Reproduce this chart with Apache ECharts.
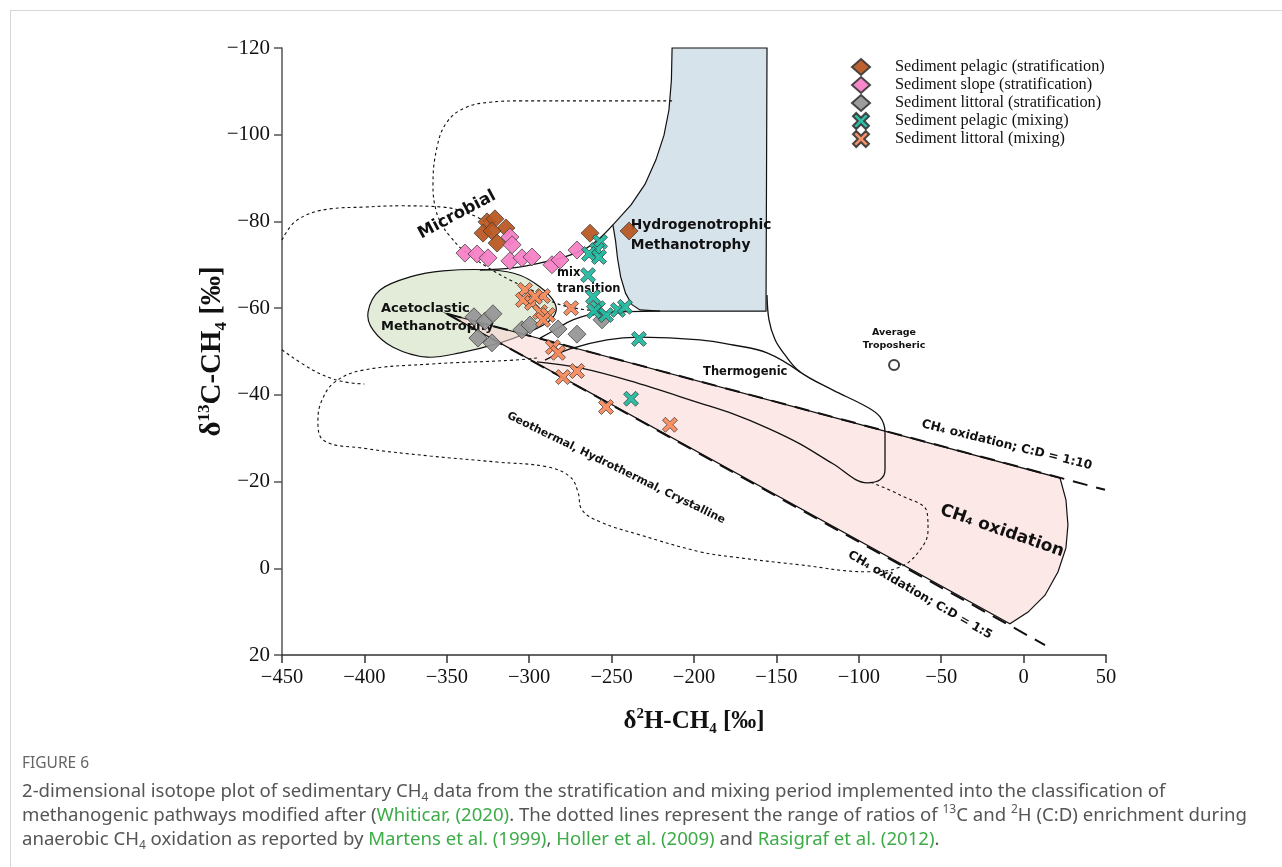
<!DOCTYPE html>
<html>
<head>
<meta charset="utf-8">
<script src="https://cdn.jsdelivr.net/npm/echarts/dist/echarts.min.js"></script>
<style>
  html, body { margin: 0; padding: 0; background: #fff; }
  #chart { width: 1282px; height: 867px; }
</style>
</head>
<body>
<div id="chart"></div>
<script>
// --- data points: [δ2H, δ13C] ---
const pelagicStrat = [[-325.6,-79.9],[-320.8,-80.6],[-314.1,-78.5],[-328,-77.3],[-322.6,-77.8],[-319.5,-75],[-263.1,-77.3],[-239.4,-77.8]];
const slopeStrat = [[-339,-72.7],[-331.7,-72.5],[-325,-71.6],[-311.7,-70.9],[-304.4,-71.6],[-298.3,-71.8],[-286.2,-70],[-281.3,-71.1],[-271,-73.4],[-311.7,-76.4],[-310.4,-74.6]];
const littoralStrat = [[-333.5,-58],[-326.8,-57],[-322,-58.7],[-331.1,-53.1],[-322.6,-52],[-304.4,-55],[-299.5,-56.1],[-282.5,-55.2],[-271,-54],[-255.8,-57.3]];
const pelagicMix = [[-257,-75.3],[-258.9,-73.4],[-263.7,-72.5],[-257.6,-71.8],[-264.3,-67.6],[-261.3,-62.6],[-258.3,-60],[-260.7,-59.3],[-253.4,-58.4],[-246.1,-59.6],[-241.9,-60.3],[-233.4,-52.9],[-238.2,-39.1]];
const littoralMix = [[-302.5,-64.2],[-303.8,-61.9],[-298.3,-61.2],[-291.6,-62.8],[-296.5,-62.6],[-293.4,-59.1],[-288.6,-58.4],[-291.6,-57.3],[-274.6,-60],[-285.6,-51],[-282.5,-49.7],[-279.5,-44.1],[-271,-45.5],[-253.4,-37.2],[-214.6,-33.1]];
const troposphere = [[-78.6,-46.9]];

const seriesNames = [
  'Sediment pelagic (stratification)',
  'Sediment slope (stratification)',
  'Sediment littoral (stratification)',
  'Sediment pelagic (mixing)',
  'Sediment littoral (mixing)'
];

const xTicks = { min: -450, max: 50, step: 50 };
const yTicks = { min: -120, max: 20, step: 20 };

// --- classification fields (outlines in data units) ---
const hydroField = [[-213.3,-120],[-213.7,-112.6],[-215.2,-105.7],[-218.2,-99.9],[-223.1,-94.2],[-229.7,-88.6],[-238.2,-83.8],[-249.2,-79.2],[-247.6,-75.5],[-246.4,-71.5],[-244.5,-67.2],[-241.5,-63.4],[-237.6,-60.8],[-232.8,-59.6],[-220.6,-59.3],[-156.3,-59.3],[-155.7,-120]];
const acetoField = [[-397.8,-59.1],[-390.5,-64.2],[-372.3,-67.2],[-352.3,-68.6],[-322,-68.8],[-305.6,-67.6],[-293.4,-64.9],[-285.6,-61.9],[-283.7,-59.3],[-288.6,-56.8],[-301.3,-54.3],[-317.7,-52],[-342,-49.7],[-362,-48.7],[-382.6,-51],[-394.8,-55]];
const oxidationField = [[-349.9,-58.7],[22.1,-20.8],[25.7,-15.8],[26.9,-10],[25.7,-4.7],[20.9,0.8],[13,6.2],[2.7,10.1],[-8.3,12.8]];

const microbialUpper = [[-213.3,-107.8],[-257,-107.8],[-305.6,-107.8],[-323.8,-107.5],[-339,-106.2],[-349.9,-102.9],[-355.9,-97.2],[-358.4,-88.2],[-356.6,-82.6],[-352.9,-79.2],[-348.1,-76.6],[-340.2,-73.4],[-325.6,-69.5],[-311.7,-66.5],[-297.7,-64],[-285.6,-61.4],[-272.2,-60],[-257,-59.3]];
const microbialLeft = [[-450,-75.7],[-440.9,-80.3],[-420.9,-82.9],[-400.8,-83.3],[-378.4,-83.6],[-352.3,-83.3],[-335.9,-81.7],[-323.8,-79.4]];
const microbialLow = [[-450,-50.4],[-431.2,-45.7],[-414.8,-43.2],[-400,-42.5]];
const geothermal = [[-295.3,-48.5],[-309.8,-48],[-360.2,-47.1],[-400.8,-45.7],[-417.8,-43],[-425.7,-38.8],[-428.2,-34.2],[-425.1,-29.6],[-400.8,-27.7],[-360.2,-25.9],[-319.5,-24.5],[-289.2,-23.4],[-275.2,-21.1],[-270.4,-17.6],[-268,-13.5],[-257,-10.7],[-232.8,-7.7],[-196.4,-3.8],[-176.3,-2.6],[-135.7,-0.8],[-95,0.8],[-75,-0.3],[-62.9,-4.2],[-58,-8.8],[-58.6,-13],[-75,-16.9],[-93.2,-19.9]];

const microbialBoundary = [[-249.2,-79.2],[-257,-76.2],[-264.9,-73.9],[-277.1,-72],[-293.4,-70.4],[-309.8,-69.3],[-329.9,-68.8]];
const thermoOutline = [[-155.7,-63],[-154.5,-57.3],[-150.8,-52.7],[-144.8,-49.2],[-135.7,-45.3],[-115.7,-41.1],[-95,-37.2],[-87.1,-34.9],[-84.1,-31.4],[-84.1,-22.7],[-87.1,-20.4],[-95,-19.7],[-115.7,-24.1],[-135.7,-28.7],[-155.7,-32.4],[-176.3,-35.6],[-196.4,-38.1],[-238.8,-43.2],[-269.2,-46.2],[-295.3,-47.6]];
const thermoUpper = [[-135.7,-45.3],[-155.7,-49.7],[-176.3,-51.5],[-196.4,-52.7],[-232.8,-53.3],[-252.8,-52.7],[-275.2,-50.6],[-290.4,-48]];
const transitionLower = [[-220.6,-59.3],[-257,-58.9],[-273.4,-57.3],[-284.3,-55],[-293.4,-53.1]];

const oxidation10 = [[-349.9,-58.7],[49.4,-18.1]];
const oxidation5 = [[-349.9,-58.7],[13,17.7]];

// --- annotation texts [x, y, text, rotation deg, font size, align] ---
const notes = [
  [-343.8, -81.5, 'Microbial', 28, 16.5, 'center'],
  [-238.4, -76.8, 'Hydrogenotrophic\nMethanotrophy', 0, 13.8, 'left'],
  [-283.1, -66.3, 'mix\ntransition', 0, 11.5, 'left'],
  [-389.9, -57.9, 'Acetoclastic\nMethanotrophy', 0, 13, 'left'],
  [-194.5, -45.3, 'Thermogenic', 0, 11.5, 'left'],
  [-78.6, -52.9, 'Average\nTroposheric', 0, 9.5, 'center'],
  [-247.3, -23.1, 'Geothermal, Hydrothermal, Crystalline', -26, 11, 'center'],
  [-10.2, -28.4, 'CH\u2084 oxidation; C:D = 1:10', -14, 12.2, 'center'],
  [-13.1, -8.6, 'CH\u2084 oxidation', -19, 17, 'center'],
  [-62.9, 6.2, 'CH\u2084 oxidation; C:D = 1:5', -30, 12, 'center']
];

const xCross = 'path://M2,0L5,3L8,0L10,2L7,5L10,8L8,10L5,7L2,10L0,8L3,5L0,2Z';
const minus = v => String(v).replace('-', '\u2212');

function fieldSeries(points, fill, z, smooth) {
  return {
    type: 'custom', coordinateSystem: 'cartesian2d', silent: true, z: z,
    data: [[-200, -50]],
    renderItem: function (params, api) {
      return {
        type: 'polygon',
        shape: { points: points.map(p => api.coord(p)), smooth: smooth || 0 },
        style: { fill: fill, stroke: '#111', lineWidth: 1.2 }
      };
    }
  };
}

function lineSeries(points, dash, width, z, smooth) {
  return {
    type: 'line', data: points, smooth: smooth, symbol: 'none', silent: true, z: z,
    lineStyle: { color: '#111', width: width, type: dash }
  };
}

function dotSeries(name, data, symbol, size, color) {
  return {
    name: name, type: 'scatter', data: data, symbol: symbol, symbolSize: size, z: 10,
    itemStyle: { color: color, borderColor: '#3a3a3a', borderWidth: 0.8, opacity: 0.93 }
  };
}

function axisNameRich(size) {
  const s = Math.round(size * 0.6);
  return {
    n: { fontFamily: 'Liberation Serif', fontWeight: 'bold', fontSize: size, color: '#111', lineHeight: size + 5 },
    sup: { fontFamily: 'Liberation Serif', fontWeight: 'bold', fontSize: s, color: '#111', lineHeight: s, verticalAlign: 'top' },
    sub: { fontFamily: 'Liberation Serif', fontWeight: 'bold', fontSize: s, color: '#111', lineHeight: s, verticalAlign: 'bottom' }
  };
}

const chart = echarts.init(document.getElementById('chart'));

const options = {
  animation: false,
  backgroundColor: '#fff',
  grid: { left: 282, right: 176, top: 48, bottom: 212 },
  legend: {
    data: seriesNames,
    orient: 'vertical', left: 846, top: 53,
    itemWidth: 18, itemHeight: 16, itemGap: 0,
    textStyle: { fontFamily: 'Liberation Serif', fontSize: 16.3, lineHeight: 16, color: '#111', padding: [0, 0, 0, 20] }
  },
  xAxis: {
    type: 'value', min: xTicks.min, max: xTicks.max, interval: xTicks.step,
    axisLine: { onZero: false, lineStyle: { color: '#333', width: 1.5 } },
    axisTick: { length: 8, lineStyle: { color: '#333', width: 1.5 } },
    splitLine: { show: false },
    axisLabel: { fontFamily: 'Liberation Serif', fontSize: 20.5, color: '#111', margin: 12, formatter: minus },
    name: '{n|\u03b4}{sup|2}{n|H-CH}{sub|4}{n| [\u2030]}',
    nameLocation: 'middle', nameGap: 52,
    nameTextStyle: { rich: axisNameRich(25) }
  },
  yAxis: {
    type: 'value', inverse: true, min: yTicks.min, max: yTicks.max, interval: yTicks.step,
    axisLine: { onZero: false, lineStyle: { color: '#555', width: 1.5 } },
    axisTick: { length: 8, lineStyle: { color: '#555', width: 1.5 } },
    splitLine: { show: false },
    axisLabel: { fontFamily: 'Liberation Serif', fontSize: 21, color: '#111', margin: 12, formatter: minus },
    name: '{n|\u03b4}{sup|13}{n|C-CH}{sub|4}{n| [\u2030]}',
    nameLocation: 'middle', nameGap: 52, nameRotate: 90, nameMoveOverlap: false,
    nameTextStyle: { rich: axisNameRich(29) }
  },
  graphic: [
    { type: 'line', shape: { x1: 10, y1: 10.5, x2: 1282, y2: 10.5 }, style: { stroke: '#d6d6d6', lineWidth: 1 } },
    { type: 'line', shape: { x1: 10.5, y1: 10, x2: 10.5, y2: 867 }, style: { stroke: '#d6d6d6', lineWidth: 1 } },
    { type: 'text', left: 22, top: 756, style: { text: 'FIGURE 6', font: '15.5px "Noto Sans"', fill: '#666' } },
    {
      type: 'text', left: 22, top: 780,
      style: {
        text: '2-dimensional isotope plot of sedimentary CH{sub|4} data from the stratification and mixing period implemented into the classification of\n' +
              'methanogenic pathways modified after ({g|Whiticar, (2020)}. The dotted lines represent the range of ratios of {sup|13}C and {sup|2}H (C:D) enrichment during\n' +
              'anaerobic CH{sub|4} oxidation as reported by {g|Martens et al. (1999)}, {g|Holler et al. (2009)} and {g|Rasigraf et al. (2012)}.',
        font: '18.6px "Noto Sans"', fill: '#555', lineHeight: 24,
        rich: {
          g: { fill: '#3dab48', font: '18.6px "Noto Sans"', lineHeight: 24 },
          sub: { font: '12px "Noto Sans"', fill: '#555', lineHeight: 12, verticalAlign: 'bottom' },
          sup: { font: '12px "Noto Sans"', fill: '#555', lineHeight: 12, verticalAlign: 'top' }
        }
      }
    }
  ],
  series: [
    fieldSeries(acetoField, '#e2ecd8', 1, 0.35),
    fieldSeries(oxidationField, 'rgba(252,214,214,0.55)', 2, 0),
    fieldSeries(hydroField, '#d6e3ea', 1, 0),
    lineSeries(microbialUpper, [3, 3], 1.1, 3, 0.4),
    lineSeries(microbialLeft, [3, 3], 1.1, 3, 0.4),
    lineSeries(microbialLow, [3, 3], 1.1, 3, 0.4),
    lineSeries(geothermal, [3, 3], 1.1, 3, 0.4),
    lineSeries(microbialBoundary, 'solid', 1.3, 3, 0.4),
    lineSeries(thermoOutline, 'solid', 1.3, 3, 0.35),
    lineSeries(thermoUpper, 'solid', 1.3, 3, 0.4),
    lineSeries(transitionLower, 'solid', 1.3, 3, 0.4),
    lineSeries(oxidation10, [15, 9], 2, 4, false),
    lineSeries(oxidation5, [15, 9], 2, 4, false),
    {
      type: 'custom', coordinateSystem: 'cartesian2d', silent: true, z: 5,
      data: notes.map(n => [n[0], n[1]]),
      renderItem: function (params, api) {
        const n = notes[params.dataIndex];
        const p = api.coord([n[0], n[1]]);
        return {
          type: 'text', x: p[0], y: p[1], rotation: n[3] * Math.PI / 180,
          style: {
            text: n[2], fill: '#111', align: n[5], verticalAlign: 'middle',
            font: 'bold ' + n[4] + 'px "DejaVu Sans"', lineHeight: n[4] * 1.4
          }
        };
      }
    },
    {
      type: 'scatter', data: troposphere, symbol: 'emptyCircle', symbolSize: 10, silent: true, z: 6,
      itemStyle: { color: '#111', borderColor: '#111', borderWidth: 1 }
    },
    dotSeries(seriesNames[0], pelagicStrat, 'diamond', 18, '#b8561f'),
    dotSeries(seriesNames[1], slopeStrat, 'diamond', 18, '#f57fc6'),
    dotSeries(seriesNames[2], littoralStrat, 'diamond', 18, '#959595'),
    dotSeries(seriesNames[3], pelagicMix, xCross, 15, '#1fb9a0'),
    dotSeries(seriesNames[4], littoralMix, xCross, 15, '#f78a5a')
  ]
};

chart.setOption(options);
</script>
</body>
</html>
